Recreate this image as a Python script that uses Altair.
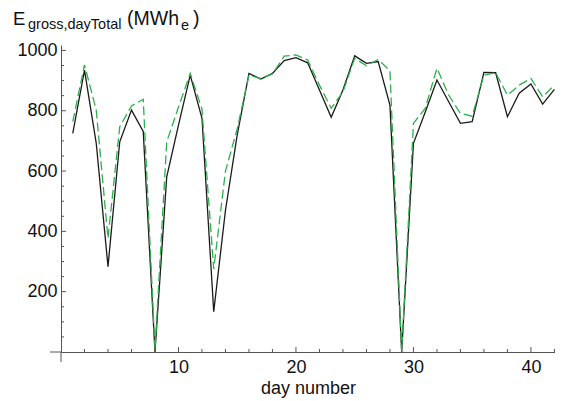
import altair as alt
import pandas as pd

days = list(range(1, 43))
measured = [725, 935, 692, 283, 697, 802, 731, 0, 581, 752, 918, 775, 134, 470, 720,
            924, 905, 924, 966, 976, 959, 869, 778, 869, 982, 957, 963, 819, 0, 692,
            795, 902, 830, 758, 764, 927, 926, 780, 858, 889, 822, 871]
simulated = [764, 952, 802, 377, 747, 816, 838, 8, 697, 812, 924, 805, 275, 600, 740,
             918, 907, 922, 981, 985, 968, 885, 808, 863, 974, 949, 970, 933, 2, 758,
             808, 941, 852, 791, 782, 918, 926, 852, 885, 907, 846, 885]

x_major = [10, 20, 30, 40]
x_minor = [v for v in range(2, 43, 2) if v not in x_major]
y_major = [200, 400, 600, 800, 1000]
y_minor = [v for v in range(50, 1001, 50) if v not in y_major]

W, H = 494, 307
FONT = "Liberation Sans"
AX = "#555555"

df_m = pd.DataFrame({"day": days, "E": measured})
df_s = pd.DataFrame({"day": days, "E": simulated})

xs = alt.Scale(domain=[0, 42.05], nice=False, zero=False)
ys = alt.Scale(domain=[0, 1018], nice=False)

x_axis = alt.Axis(values=x_major, ticks=False, domainColor=AX, domainWidth=1,
                  labelFont=FONT, labelFontSize=18, labelColor="#111", labelPadding=6,
                  grid=False, title="day number", titleFont=FONT, titleFontSize=18,
                  titleFontWeight="normal", titleColor="#111", titlePadding=3,
                  format="d")
y_axis = alt.Axis(values=y_major, ticks=False, domainColor=AX, domainWidth=1,
                  labelFont=FONT, labelFontSize=18, labelColor="#111", labelPadding=4,
                  grid=False, title=None, format="d")

black = alt.Chart(df_m).mark_line(color="#1a1a1a", strokeWidth=1.3).encode(
    x=alt.X("day:Q", scale=xs, axis=x_axis),
    y=alt.Y("E:Q", scale=ys, axis=y_axis),
)
green = alt.Chart(df_s).mark_line(color="#2db04c", strokeWidth=1.3, strokeDash=[9, 4]).encode(
    x=alt.X("day:Q", scale=xs),
    y=alt.Y("E:Q", scale=ys),
)

def xticks(vals, ln):
    return alt.Chart(pd.DataFrame({"v": vals})).mark_rule(color=AX, strokeWidth=1).encode(
        x=alt.X("v:Q", scale=xs), y=alt.value(H), y2=alt.value(H - ln))

def yticks(vals, ln):
    return alt.Chart(pd.DataFrame({"v": vals})).mark_rule(color=AX, strokeWidth=1).encode(
        y=alt.Y("v:Q", scale=ys), x=alt.value(0), x2=alt.value(ln))

one = pd.DataFrame({"a": [0]})
ext_x = alt.Chart(one).mark_rule(color=AX, strokeWidth=1).encode(
    x=alt.value(-11), x2=alt.value(0), y=alt.value(H))
ext_y = alt.Chart(one).mark_rule(color=AX, strokeWidth=1).encode(
    x=alt.value(0), y=alt.value(H), y2=alt.value(H + 10))

def txt(s, x, y, size):
    return alt.Chart(pd.DataFrame({"t": [s]})).mark_text(
        align="left", baseline="alphabetic", font=FONT, fontSize=size, color="#111"
    ).encode(text="t:N", x=alt.value(x), y=alt.value(y))

title_parts = [
    txt("E", -48, -20, 18.5),
    txt("gross,dayTotal", -33, -16.5, 14.5),
    txt("(MWh", 66, -20, 19.5),
    txt("e", 120, -15.5, 14.5),
    txt(")", 132, -20, 19.5),
]

chart = alt.layer(
    black, green,
    xticks(x_major, 5), xticks(x_minor, 3),
    yticks(y_major, 5), yticks(y_minor, 3),
    ext_x, ext_y,
    *title_parts,
).properties(
    width=W, height=H,
    autosize=alt.AutoSizeParams(type="none"),
    padding={"left": 53, "top": 37, "right": 0, "bottom": 48},
).configure_view(stroke=None)

chart.save("out.html", embed_options={"renderer": "svg", "actions": False})
